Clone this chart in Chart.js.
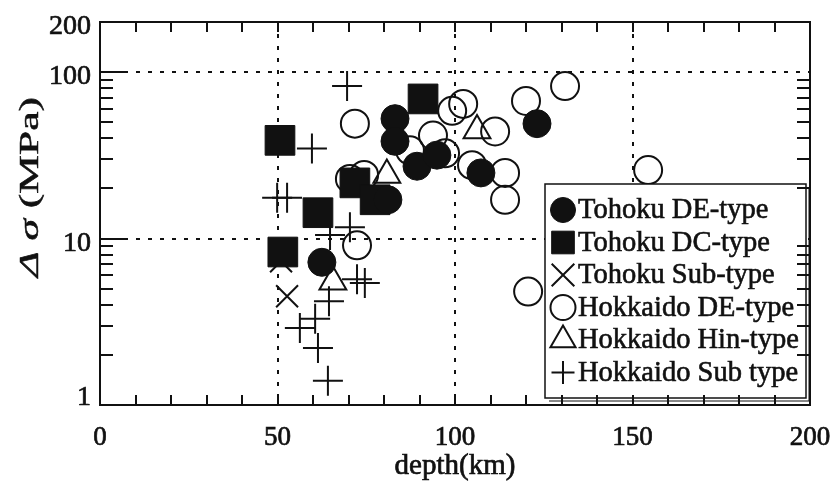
<!DOCTYPE html>
<html>
<head>
<meta charset="utf-8">
<script src="https://cdn.jsdelivr.net/npm/chart.js@4.4.1/dist/chart.umd.min.js"></script>
<style>
  html, body { margin: 0; padding: 0; background: #fff; }
  #wrap { width: 838px; height: 482px; }
</style>
</head>
<body>
<div id="wrap"><canvas id="stressChart" width="838" height="482"></canvas></div>
<script>
// depth (km), stress drop (MPa)
const tohokuDE = [
  [83.1, 52.5], [83.1, 38.4], [89.3, 27.2], [94.9, 31.7],
  [107.3, 24.8], [123.1, 49.0], [81.1, 17.1], [62.5, 7.2]
];
const tohokuDC = [
  [50.7, 38.9], [91.0, 69.0], [71.8, 21.6], [77.5, 17.1],
  [61.4, 14.3], [51.5, 8.3]
];
const tohokuSub = [
  [52.7, 4.5], [51.0, 7.3]
];
const hokkaidoDE = [
  [71.8, 49.0], [99.2, 58.5], [102.3, 64.4], [93.8, 41.6],
  [97.2, 32.5], [87.3, 33.9], [70.4, 22.8], [74.4, 24.1],
  [131.0, 82.4], [120.0, 67.1], [111.3, 44.0], [104.8, 27.6],
  [114.1, 24.8], [114.1, 17.1], [120.6, 4.8], [154.4, 25.8],
  [72.4, 9.1]
];
const hokkaidoHin = [
  [106.2, 44.6], [80.8, 24.1], [65.6, 5.5]
];
const hokkaidoSub = [
  [69.6, 82.4], [59.7, 34.8], [49.9, 17.6], [52.7, 17.6],
  [70.4, 11.7], [64.8, 10.5], [72.4, 5.7], [74.6, 5.4],
  [64.5, 4.2], [60.6, 3.3], [56.3, 2.9], [61.4, 2.2], [64.2, 1.4]
];

const seriesNames = [
  'Tohoku DE-type', 'Tohoku DC-type', 'Tohoku Sub-type',
  'Hokkaido DE-type', 'Hokkaido Hin-type', 'Hokkaido Sub type'
];

const xTickLabels = [0, 50, 100, 150, 200];
const yTickLabels = [1, 10, 100, 200];
const xGridLines = [50, 100, 150];
const yGridLines = [10, 100];

const FONT = '"Liberation Serif", "Times New Roman", serif';
const INK = '#111';

const pts = arr => arr.map(([x, y]) => ({ x, y }));

function series(label, data, style, radius, filled, legendRadius) {
  return {
    label,
    data: pts(data),
    pointStyle: style,
    pointRadius: radius,
    pointHoverRadius: radius,
    backgroundColor: filled ? INK : 'rgba(0,0,0,0)',
    borderColor: INK,
    borderWidth: filled ? 1 : 2,
    pointHoverBorderWidth: filled ? 1 : 2,
    legendRadius
  };
}

// printed text is a little heavier than the plain face
function inkText(ctx, s, x, y) {
  ctx.fillText(s, x, y);
  ctx.strokeText(s, x, y);
}

// dashed reference lines under the markers, frame/ticks/labels/legend on top
const decor = {
  id: 'decor',
  beforeDatasetsDraw(chart) {
    const { ctx, chartArea: a, scales: { x, y } } = chart;
    ctx.save();
    ctx.strokeStyle = INK;
    ctx.lineWidth = 2;
    ctx.setLineDash([4, 8]);
    ctx.beginPath();
    xGridLines.forEach(v => {
      const px = Math.round(x.getPixelForValue(v));
      ctx.moveTo(px, a.top); ctx.lineTo(px, a.bottom);
    });
    yGridLines.forEach(v => {
      const py = Math.round(y.getPixelForValue(v));
      ctx.moveTo(a.left + 24, py); ctx.lineTo(a.right, py);
    });
    ctx.stroke();
    ctx.restore();
  },
  afterDatasetsDraw(chart) {
    const { ctx, chartArea: a, scales: { x, y } } = chart;
    ctx.save();

    // legend box
    const L = 545, T = 184, R = 806, B = 398;
    ctx.fillStyle = '#fff';
    ctx.fillRect(L, T, R - L, B - T);
    ctx.strokeStyle = INK;
    ctx.lineWidth = 1.5;
    ctx.strokeRect(L, T, R - L, B - T);
    ctx.beginPath();
    ctx.moveTo(L + 4, B + 3); ctx.lineTo(R + 3, B + 3); ctx.lineTo(R + 3, T + 4);
    ctx.lineWidth = 1;
    ctx.stroke();

    ctx.textAlign = 'left';
    ctx.textBaseline = 'middle';
    chart.data.datasets.forEach((ds, i) => {
      const cy = 210 + i * 32.5;
      ctx.fillStyle = ds.backgroundColor;
      ctx.strokeStyle = ds.borderColor;
      ctx.lineWidth = ds.borderWidth;
      Chart.helpers.drawPoint(ctx, {
        pointStyle: ds.pointStyle, rotation: 0,
        radius: ds.legendRadius, borderWidth: ds.borderWidth
      }, 563, cy);
      ctx.font = '28.5px ' + FONT;
      ctx.fillStyle = INK;
      ctx.strokeStyle = INK;
      ctx.lineWidth = 0.6;
      inkText(ctx, ds.label, 578, cy + 1);
    });

    // frame
    ctx.strokeStyle = INK;
    ctx.lineWidth = 2;
    ctx.strokeRect(a.left, a.top, a.right - a.left, a.bottom - a.top);

    // inward ticks
    ctx.beginPath();
    for (let v = 10; v < 200; v += 10) {
      const px = Math.round(x.getPixelForValue(v));
      ctx.moveTo(px, a.bottom); ctx.lineTo(px, a.bottom - 10);
      ctx.moveTo(px, a.top); ctx.lineTo(px, a.top + 10);
    }
    const yMinor = [];
    [1, 10].forEach(d => { for (let m = 2; m <= 9; m++) yMinor.push(d * m); });
    yMinor.forEach(v => {
      const py = Math.round(y.getPixelForValue(v));
      ctx.moveTo(a.left, py); ctx.lineTo(a.left + 13, py);
      ctx.moveTo(a.right, py); ctx.lineTo(a.right - 13, py);
    });
    yGridLines.forEach(v => {
      const py = Math.round(y.getPixelForValue(v));
      ctx.moveTo(a.left, py); ctx.lineTo(a.left + 24, py);
    });
    ctx.stroke();

    // tick labels
    ctx.fillStyle = INK;
    ctx.lineWidth = 0.7;
    ctx.font = '28px ' + FONT;
    ctx.textAlign = 'right';
    ctx.textBaseline = 'middle';
    yTickLabels.forEach(v => {
      const py = y.getPixelForValue(v);
      inkText(ctx, String(v), 91, Math.min(py + 5, a.bottom - 7));
    });
    ctx.font = '27px ' + FONT;
    ctx.textAlign = 'center';
    xTickLabels.forEach(v => {
      inkText(ctx, String(v), x.getPixelForValue(v), 438);
    });

    // axis titles
    ctx.font = '29px ' + FONT;
    inkText(ctx, 'depth(km)', (a.left + a.right) / 2, 466);

    ctx.translate(31, 187);
    ctx.rotate(-Math.PI / 2);
    const italic = 'italic 28px ' + FONT, upright = '28px ' + FONT;
    ctx.font = italic;
    const sym = '\u0394 \u03c3';
    const w1 = ctx.measureText(sym).width;
    ctx.font = upright;
    const unit = ' (MPa)';
    const w2 = ctx.measureText(unit).width;
    const stretch = 180 / (w1 + w2);
    ctx.scale(stretch, 1);
    ctx.textAlign = 'left';
    ctx.lineWidth = 0.5;
    ctx.font = italic;
    inkText(ctx, sym, -(w1 + w2) / 2, 0);
    ctx.font = upright;
    inkText(ctx, unit, -(w1 + w2) / 2 + w1, 0);

    ctx.restore();
  }
};

new Chart(document.getElementById('stressChart'), {
  type: 'scatter',
  data: {
    datasets: [
      series(seriesNames[0], tohokuDE, 'circle', 14, true, 12.5),
      series(seriesNames[1], tohokuDC, 'rect', 21, true, 16),
      series(seriesNames[2], tohokuSub, 'crossRot', 15.5, false, 16),
      series(seriesNames[3], hokkaidoDE, 'circle', 14, false, 12.5),
      series(seriesNames[4], hokkaidoHin, 'triangle', 15.5, false, 14.5),
      series(seriesNames[5], hokkaidoSub, 'cross', 15, false, 11.5)
    ]
  },
  options: {
    responsive: false,
    animation: false,
    devicePixelRatio: 1,
    layout: { padding: { left: 100, top: 17, right: 28, bottom: 77 } },
    plugins: {
      legend: { display: false },
      tooltip: { enabled: false }
    },
    scales: {
      x: { type: 'linear', min: 0, max: 200, display: false },
      y: { type: 'logarithmic', min: 1, max: 200, display: false }
    }
  },
  plugins: [decor]
});
</script>
</body>
</html>
